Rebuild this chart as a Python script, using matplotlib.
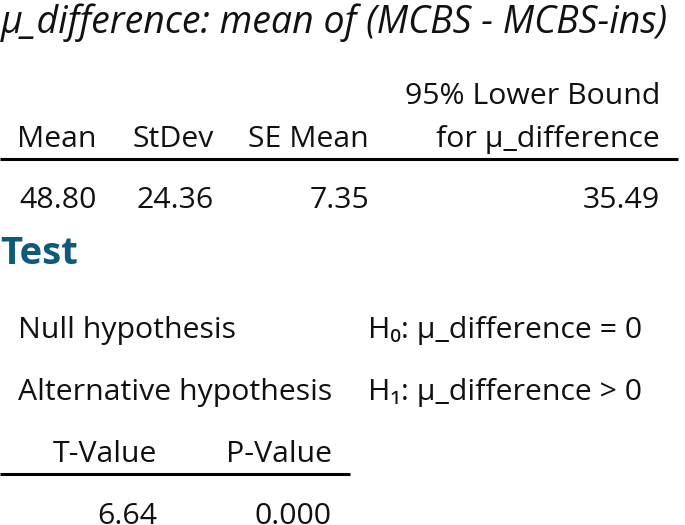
import matplotlib
matplotlib.use("Agg")
import matplotlib.pyplot as plt

plt.rcParams['font.family'] = ['Open Sans', 'Noto Sans', 'DejaVu Sans']

title = "µ_difference: mean of (MCBS - MCBS-ins)"
stat_headers = ["Mean", "StDev", "SE Mean", "95% Lower Bound\nfor µ_difference"]
stat_values = [48.80, 24.36, 7.35, 35.49]
test_heading = "Test"
hyp_labels = ["Null hypothesis", "Alternative hypothesis"]
hyp_texts = ["H₀: µ_difference = 0", "H₁: µ_difference > 0"]
test_headers = ["T-Value", "P-Value"]
test_values = ["6.64", "0.000"]

W, H = 685, 525
fig = plt.figure(figsize=(W / 100, H / 100), dpi=100)
ax = fig.add_axes([0, 0, 1, 1])
ax.set_xlim(0, W)
ax.set_ylim(H, 0)
ax.axis('off')

fs = 21.8
col = '#111111'

ax.text(1, 33, title, fontsize=27, style='italic', ha='left', va='baseline', color=col)

stat_right = [97, 214, 369, 660]
for x, h in zip(stat_right, stat_headers):
    lines = h.split("\n")
    for j, line in enumerate(reversed(lines)):
        ax.text(x, 147 - 43 * j, line, fontsize=fs, ha='right', va='baseline', color=col)
ax.plot([0, 678], [159, 159], color='black', lw=2.2, solid_capstyle='butt')
for x, v in zip(stat_right, stat_values):
    ax.text(x, 208, f"{v:.2f}", fontsize=fs, ha='right', va='baseline', color=col)

ax.text(0, 264, test_heading, fontsize=27.5, fontweight='bold', color='#0d5a7c',
        ha='left', va='baseline')

for i, (lab, t) in enumerate(zip(hyp_labels, hyp_texts)):
    y = 338 + i * 62
    ax.text(18, y, lab, fontsize=fs, ha='left', va='baseline', color=col)
    ax.text(368, y, t, fontsize=fs, ha='left', va='baseline', color=col)

test_right = [157, 332]
for x, h in zip(test_right, test_headers):
    ax.text(x, 462, h, fontsize=fs, ha='right', va='baseline', color=col)
ax.plot([0, 350], [474, 474], color='black', lw=2.2, solid_capstyle='butt')
for x, v in zip(test_right, test_values):
    ax.text(x, 524, v, fontsize=fs, ha='right', va='baseline', color=col)

fig.savefig("out.png", dpi=100)
